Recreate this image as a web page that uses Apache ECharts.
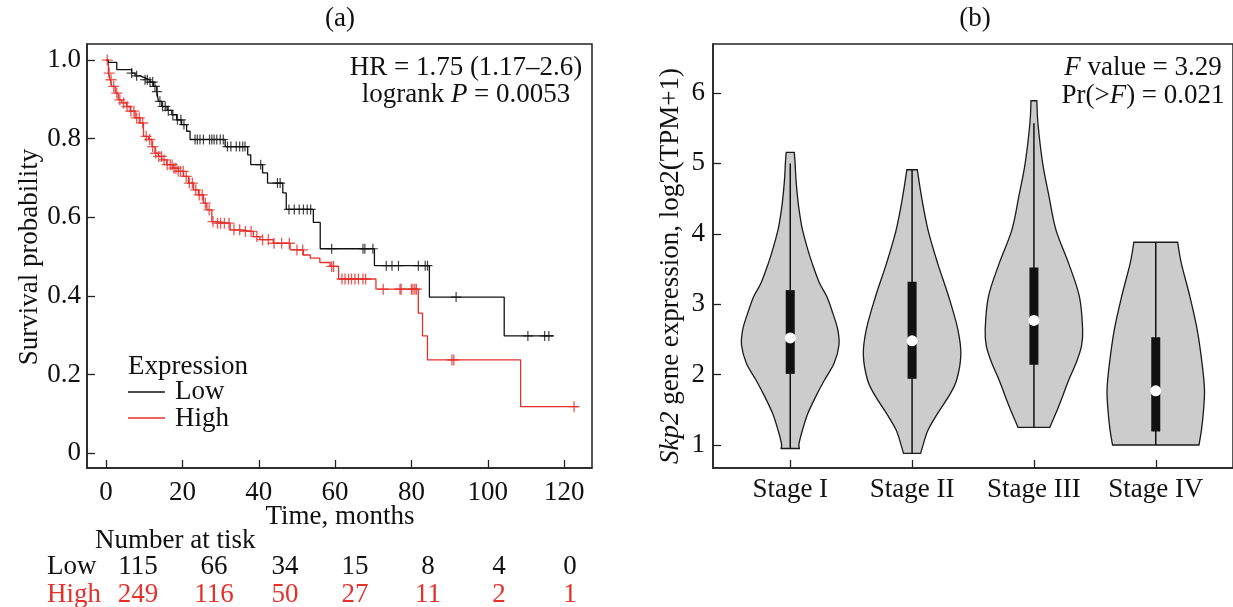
<!DOCTYPE html>
<html><head><meta charset="utf-8">
<script src="https://cdn.jsdelivr.net/npm/echarts@6/dist/echarts.min.js"></script>
<style>html,body{margin:0;padding:0;background:#fff}#c{width:1233px;height:607px}</style>
</head><body><div id="c"></div>
<script>
const FONT = '"Liberation Serif","DejaVu Serif","Times New Roman",serif';
const FS = 27;
const RED = '#e3312b';
const INK = '#111111';

// ---------- panel (a): Kaplan-Meier ----------
const timeTicks = [0, 20, 40, 60, 80, 100, 120];
const survTicks = [0, 0.2, 0.4, 0.6, 0.8, 1.0];

const lowTimes = [0, 0.6, 2.8, 6.7, 7.6, 8.9, 10.2, 11.5, 12.4, 13.3, 13.7, 14.6, 16, 17.2, 18.5, 19.8, 21.1, 22.0, 31.2, 37.1, 37.9, 41, 42.3, 46.3, 47.2, 54.3, 56.1, 70.3, 84.7, 104.3, 117.2];
const lowSurv  = [1.0, 0.994, 0.976, 0.967, 0.96, 0.955, 0.95, 0.944, 0.933, 0.92, 0.895, 0.882, 0.872, 0.861, 0.848, 0.836, 0.819, 0.798, 0.78, 0.759, 0.734, 0.713, 0.687, 0.662, 0.62, 0.587, 0.52, 0.477, 0.397, 0.298, 0.298];

const highTimes = [0, 0.6, 1.1, 1.5, 2.4, 3.2, 4.1, 5.4, 6.3, 7.6, 8.9, 9.8, 11.1, 12.0, 12.8, 13.7, 14.6, 15.9, 17.6, 18.9, 20.3, 21.6, 22.9, 24.2, 25.5, 26.4, 27.7, 29, 32.5, 35.1, 38.6, 40.3, 43.8, 48.2, 51.7, 53.5, 56, 58.7, 60.9, 70.7, 81.8, 82.9, 84.2, 108.6, 123.7];
const highSurv  = [1.0, 0.967, 0.95, 0.933, 0.916, 0.899, 0.891, 0.882, 0.87, 0.853, 0.84, 0.806, 0.798, 0.78, 0.763, 0.755, 0.746, 0.734, 0.725, 0.717, 0.704, 0.687, 0.67, 0.657, 0.636, 0.619, 0.589, 0.585, 0.568, 0.564, 0.551, 0.543, 0.534, 0.517, 0.504, 0.496, 0.485, 0.475, 0.443, 0.417, 0.356, 0.298, 0.237, 0.118, 0.118];

const lowCensor = [6.7, 8.0, 10.2, 10.8, 11.5, 12.2, 12.8, 13.3, 14.1, 14.8, 15.5, 16.3, 17.5, 18.7, 19.6, 20.4, 23.3, 23.9, 24.6, 25.5, 27.1, 27.7, 28.3, 29, 29.9, 30.7, 31.8, 32.7, 34.1, 35, 35.8, 36.4, 40.5, 44.9, 45.6, 47.9, 49.3, 50.6, 51.7, 52.7, 53.6, 59.1, 67.3, 67.8, 69.9, 73.4, 74.9, 76.6, 81.8, 83.6, 84.2, 91.7, 110.5, 114.9, 116];
const highCensor = [0.3, 0.8, 1.3, 2.0, 2.8, 3.6, 4.6, 5.5, 6.5, 7.3, 8.0, 8.7, 9.6, 10.5, 11.4, 12.2, 13.0, 13.8, 14.5, 15.2, 16.0, 16.8, 17.3, 17.8, 18.3, 18.9, 19.5, 20.2, 21.0, 21.8, 22.6, 23.5, 24.4, 25.2, 26.0, 27.0, 28.0, 29.2, 30.0, 31.0, 32.2, 33.5, 35.0, 36.5, 38.0, 39.5, 41.0, 42.5, 44.0, 46.0, 48.0, 50.0, 51.5, 59.1, 59.6, 61.8, 62.6, 63.5, 64.3, 65.2, 66.1, 67.3, 68.0, 72.6, 77.0, 77.3, 80.0, 80.4, 80.9, 81.3, 90.6, 91.1, 122.6];

const riskGroups = ['Low', 'High'];
const riskLow  = [115, 66, 34, 15, 8, 4, 0];
const riskHigh = [249, 116, 50, 27, 11, 2, 1];

// ---------- panel (b): violins ----------
const stages = ['Stage I', 'Stage II', 'Stage III', 'Stage IV'];
const exprTicks = [1, 2, 3, 4, 5, 6];
// [expression level, half width in category units]
const violinI   = [[0.95,0.075],[1.02,0.072],[1.21,0.10],[1.45,0.145],[1.69,0.21],[1.92,0.28],[2.16,0.36],[2.42,0.40],[2.64,0.39],[2.87,0.35],[3.11,0.30],[3.30,0.24],[3.58,0.18],[3.80,0.14],[4.06,0.10],[4.20,0.085],[4.44,0.065],[4.77,0.047],[5.0,0.04],[5.156,0.033]];
const violinII  = [[0.88,0.07],[0.98,0.087],[1.21,0.13],[1.45,0.21],[1.69,0.30],[1.92,0.365],[2.28,0.40],[2.64,0.376],[3.11,0.30],[3.58,0.21],[4.06,0.13],[4.53,0.077],[4.91,0.043]];
const violinIII = [[1.25,0.13],[1.45,0.18],[1.69,0.235],[1.92,0.285],[2.16,0.345],[2.40,0.39],[2.64,0.40],[3.11,0.373],[3.58,0.285],[4.06,0.18],[4.53,0.124],[5.0,0.072],[5.57,0.033],[5.89,0.024]];
const violinIV  = [[1.0,0.355],[1.21,0.375],[1.45,0.39],[1.78,0.40],[2.16,0.38],[2.64,0.34],[3.11,0.28],[3.58,0.21],[3.88,0.18]];
const whiskerLo = [0.95, 0.88, 1.25, 1.0];
const whiskerHi = [5.0, 4.91, 5.57, 3.88];
const q1     = [2.01, 1.94, 2.14, 1.19];
const median = [2.52, 2.48, 2.77, 1.77];
const q3     = [3.20, 3.32, 3.52, 2.53];

// ---------- helpers ----------
function survAt(times, surv, t) {
  let s = surv[0];
  for (let i = 0; i < times.length; i++) { if (times[i] <= t) s = surv[i]; }
  return s;
}
function catmull(P) {
  let s = '';
  for (let i = 0; i < P.length - 1; i++) {
    const p0 = P[i - 1] || P[i], p1 = P[i], p2 = P[i + 1], p3 = P[i + 2] || P[i + 1];
    const c1 = [p1[0] + (p2[0] - p0[0]) / 6, p1[1] + (p2[1] - p0[1]) / 6];
    const c2 = [p2[0] - (p3[0] - p1[0]) / 6, p2[1] - (p3[1] - p1[1]) / 6];
    s += 'C' + c1[0] + ',' + c1[1] + ' ' + c2[0] + ',' + c2[1] + ' ' + p2[0] + ',' + p2[1];
  }
  return s;
}
const violins = [violinI, violinII, violinIII, violinIV];
const PLUS = 'path://M4.4,0H5.6V4.4H10V5.6H5.6V10H4.4V5.6H0V4.4H4.4Z';

const axisFont = { fontFamily: FONT, fontSize: FS, color: INK };

const chart = echarts.init(document.getElementById('c'), null, { renderer: 'canvas' });

const riskX = [138, 214, 285, 355, 428, 499, 570];
const graphics = [];
function txt(x, y, text, opts) {
  graphics.push(Object.assign({
    type: 'text', x: x, y: y,
    style: Object.assign({ text: text, fontFamily: FONT, fontSize: FS, fill: INK, align: 'center', verticalAlign: 'middle' }, (opts && opts.style) || {})
  }, (opts && opts.el) || {}));
}
const RICH_I = { i: { fontFamily: FONT, fontSize: FS, fontStyle: 'italic', fill: INK } };
txt(340, 19, '(a)');
txt(975, 19, '(b)');
txt(466, 68, 'HR = 1.75 (1.17\u20132.6)');
txt(466, 95, 'logrank {i|P} = 0.0053', { style: { rich: RICH_I } });
txt(1143, 68, '{i|F} value = 3.29', { style: { rich: RICH_I } });
txt(1143, 96, 'Pr(>{i|F}) = 0.021', { style: { rich: RICH_I } });
txt(30, 257, 'Survival probability', { el: { rotation: Math.PI / 2 } });
txt(671, 266, '{i|Skp2} gene expression, log2(TPM+1)', { el: { rotation: Math.PI / 2 }, style: { rich: RICH_I } });
txt(340, 517, 'Time, months');
// legend
txt(128, 367, 'Expression', { style: { align: 'left' } });
graphics.push({ type: 'line', shape: { x1: 128, y1: 392, x2: 165, y2: 392 }, style: { stroke: INK, lineWidth: 1.4 } });
txt(175, 392, 'Low', { style: { align: 'left' } });
graphics.push({ type: 'line', shape: { x1: 128, y1: 418, x2: 165, y2: 418 }, style: { stroke: RED, lineWidth: 1.4 } });
txt(175, 419, 'High', { style: { align: 'left' } });
// risk table
txt(95, 541, 'Number at tisk', { style: { align: 'left' } });
txt(47, 567, riskGroups[0], { style: { align: 'left' } });
txt(47, 595, riskGroups[1], { style: { align: 'left', fill: RED } });
riskLow.forEach((v, i) => txt(riskX[i], 567, String(v)));
riskHigh.forEach((v, i) => txt(riskX[i], 595, String(v), { style: { fill: RED } }));

const axisLineStyle = { show: true, onZero: false, lineStyle: { color: '#222', width: 1.5 } };
const option = {
  animation: false,
  backgroundColor: '#fff',
  grid: [
    { left: 87, top: 44, width: 505, height: 424, show: true, borderColor: '#222', borderWidth: 1.5, backgroundColor: 'transparent' },
    { left: 713, top: 44, width: 525, height: 424, show: true, borderColor: '#222', borderWidth: 1.5, backgroundColor: 'transparent' }
  ],
  xAxis: [
    { gridIndex: 0, type: 'value', min: -5, max: 127.3,
      axisLine: axisLineStyle,
      axisTick: { show: true, inside: true, length: 8, customValues: timeTicks, lineStyle: { color: '#222', width: 1.3 } },
      axisLabel: Object.assign({ customValues: timeTicks, margin: 11 }, axisFont),
      splitLine: { show: false } },
    { gridIndex: 1, type: 'value', min: 0.366, max: 4.634,
      axisLine: axisLineStyle,
      axisTick: { show: true, inside: true, length: 8, customValues: [1, 2, 3, 4], lineStyle: { color: '#222', width: 1.3 } },
      axisLabel: Object.assign({ customValues: [1, 2, 3, 4], margin: 8, formatter: v => stages[Math.round(v) - 1] || '' }, axisFont),
      splitLine: { show: false } }
  ],
  yAxis: [
    { gridIndex: 0, type: 'value', min: -0.038, max: 1.041,
      axisLine: axisLineStyle,
      axisTick: { show: true, inside: true, length: 8, customValues: survTicks, lineStyle: { color: '#222', width: 1.3 } },
      axisLabel: Object.assign({ customValues: survTicks, margin: 6, formatter: v => v === 0 ? '0' : v.toFixed(1) }, axisFont),
      splitLine: { show: false } },
    { gridIndex: 1, type: 'value', min: 0.673, max: 6.696,
      axisLine: axisLineStyle,
      axisTick: { show: true, inside: true, length: 8, customValues: exprTicks, lineStyle: { color: '#222', width: 1.3 } },
      axisLabel: Object.assign({ customValues: exprTicks, margin: 8, formatter: v => String(Math.round(v)) }, axisFont),
      splitLine: { show: false } }
  ],
  series: [
    { type: 'line', xAxisIndex: 0, yAxisIndex: 0, step: 'end', symbol: 'none',
      data: lowTimes.map((t, i) => [t, lowSurv[i]]), lineStyle: { color: INK, width: 1.3 }, z: 3 },
    { type: 'line', xAxisIndex: 0, yAxisIndex: 0, step: 'end', symbol: 'none',
      data: highTimes.map((t, i) => [t, highSurv[i]]), lineStyle: { color: RED, width: 1.3 }, z: 2 },
    { type: 'scatter', xAxisIndex: 0, yAxisIndex: 0, symbol: PLUS, symbolSize: 10,
      data: lowCensor.map(t => [t, survAt(lowTimes, lowSurv, t)]), itemStyle: { color: INK }, z: 4 },
    { type: 'scatter', xAxisIndex: 0, yAxisIndex: 0, symbol: PLUS, symbolSize: 11,
      data: highCensor.map(t => [t, survAt(highTimes, highSurv, t)]), itemStyle: { color: RED }, z: 3 },
    { type: 'custom', xAxisIndex: 1, yAxisIndex: 1, clip: true,
      data: stages.map((s, i) => [i + 1, median[i]]),
      renderItem: function (params, api) {
        const i = params.dataIndex, c = i + 1;
        const prof = violins[i];
        const L = prof.map(p => api.coord([c - p[1], p[0]]));
        const R = prof.map(p => api.coord([c + p[1], p[0]])).reverse();
        const d = 'M' + L[0][0] + ',' + L[0][1] + catmull(L) + 'L' + R[0][0] + ',' + R[0][1] + catmull(R) + 'Z';
        const top = api.coord([c, q3[i]]), bot = api.coord([c, q1[i]]);
        const wl = api.coord([c, whiskerLo[i]]), wh = api.coord([c, whiskerHi[i]]);
        const m = api.coord([c, median[i]]);
        return { type: 'group', children: [
          { type: 'path', shape: { pathData: d }, style: { fill: '#cccccc', stroke: '#1a1a1a', lineWidth: 1.3 } },
          { type: 'line', shape: { x1: wl[0], y1: wl[1], x2: wh[0], y2: wh[1] }, style: { stroke: '#111', lineWidth: 1.5 } },
          { type: 'rect', shape: { x: top[0] - 4.5, y: top[1], width: 9, height: bot[1] - top[1] }, style: { fill: '#111' } },
          { type: 'circle', shape: { cx: m[0], cy: m[1], r: 5.5 }, style: { fill: '#fff' } }
        ] };
      } }
  ],
  graphic: graphics
};
chart.setOption(option);
</script>
</body></html>
